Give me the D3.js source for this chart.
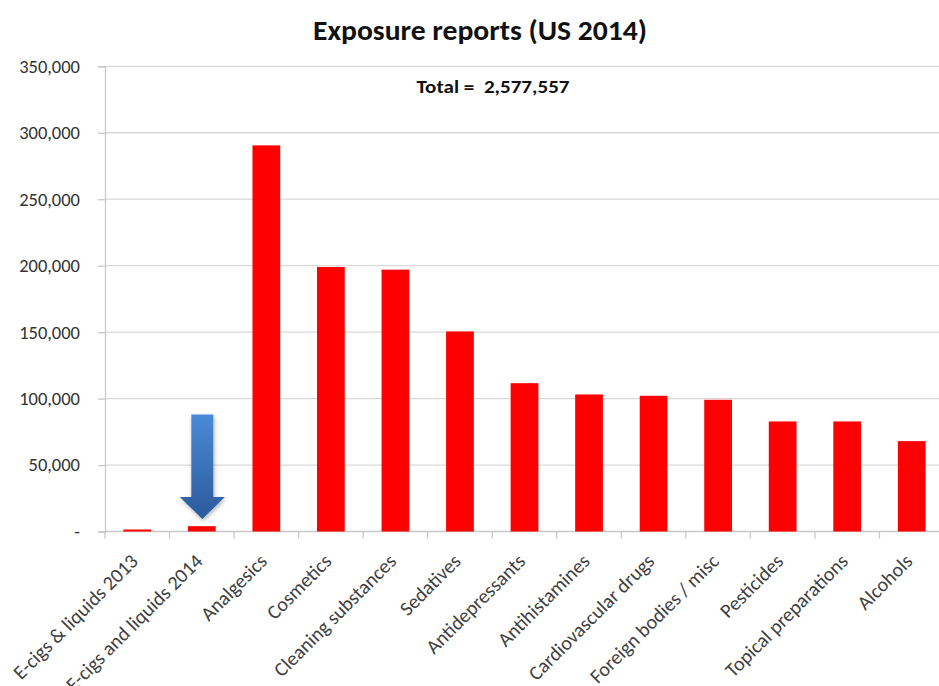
<!DOCTYPE html>
<html>
<head>
<meta charset="utf-8">
<script src="https://cdn.jsdelivr.net/npm/d3@7/dist/d3.min.js"></script>
<style>
  html, body { margin: 0; padding: 0; background: #fff; }
  svg { display: block; }
  text { font-family: Carlito, Lato, "Open Sans", sans-serif; }
</style>
</head>
<body>
<svg id="chart" width="939" height="686"></svg>
<script>
const categories = ["E-cigs & liquids 2013", "E-cigs and liquids 2014", "Analgesics", "Cosmetics",
  "Cleaning substances", "Sedatives", "Antidepressants", "Antihistamines", "Cardiovascular drugs",
  "Foreign bodies / misc", "Pesticides", "Topical preparations", "Alcohols"];
const values = [1500, 4000, 290500, 199000, 197000, 150500, 111600, 103100, 102100, 99100, 82800, 82800, 68000];
const yTicks = [0, 50000, 100000, 150000, 200000, 250000, 300000, 350000];
const title = "Exposure reports (US 2014)";
const totalLabel = "Total =  2,577,557";
const arrowTarget = "E-cigs and liquids 2014";
const arrowTop = 88000;

const svg = d3.select("#chart");
const W = 939, H = 686;
const m = { left: 105, right: -5, top: 66.3, bottom: 154.5 };

const x = d3.scaleBand().domain(categories).range([m.left, W - m.right]).paddingInner(0.57).paddingOuter(0.285);
const y = d3.scaleLinear().domain([0, 350000]).range([H - m.bottom, m.top]);

// gridlines
svg.append("g").selectAll("line").data(yTicks.slice(1)).join("line")
  .attr("x1", m.left).attr("x2", W).attr("y1", d => y(d)).attr("y2", d => y(d))
  .attr("stroke", "#d9d9d9").attr("stroke-width", 1.3);

// y axis
const yAxis = svg.append("g").attr("transform", `translate(${m.left},0)`)
  .call(d3.axisLeft(y).tickValues(yTicks).tickSize(7).tickPadding(18)
    .tickFormat(d => d === 0 ? "-" : d3.format(",")(d)));
yAxis.select(".domain").attr("stroke", "#c8c8c8").attr("stroke-width", 1.3);
yAxis.selectAll(".tick line").attr("stroke", "#c8c8c8").attr("stroke-width", 1.3);
yAxis.selectAll(".tick text").attr("fill", "#333").style("font-size", "18.5px")
  .style("font-family", "Carlito, Lato, sans-serif");

// x axis (ticks at band boundaries)
const step = x.step();
const boundaries = d3.range(categories.length + 1).map(i => x.range()[0] + i * step);
svg.append("line").attr("x1", m.left).attr("x2", W).attr("y1", y(0)).attr("y2", y(0))
  .attr("stroke", "#c8c8c8").attr("stroke-width", 1.3);
svg.append("g").selectAll("line").data(boundaries).join("line")
  .attr("x1", d => d).attr("x2", d => d).attr("y1", y(0)).attr("y2", y(0) + 7)
  .attr("stroke", "#c8c8c8").attr("stroke-width", 1.3);

// bars
svg.append("g").selectAll("rect").data(values).join("rect")
  .attr("x", (d, i) => x(categories[i])).attr("width", x.bandwidth())
  .attr("y", d => y(d)).attr("height", d => y(0) - y(d))
  .attr("fill", "#ff0000");

// x labels
svg.append("g").selectAll("text").data(categories).join("text")
  .attr("transform", d => `translate(${x(d) + x.bandwidth() / 2 + 2},${y(0) + 31}) rotate(-45)`)
  .attr("text-anchor", "end")
  .attr("fill", "#404040").style("font-size", "20px")
  .text(d => d);

// title
svg.append("text").attr("x", 480).attr("y", 40).attr("text-anchor", "middle")
  .style("font-size", "28px").style("font-weight", "bold").attr("fill", "#111")
  .attr("textLength", 334).attr("lengthAdjust", "spacingAndGlyphs")
  .text(title);

// total
svg.append("text").attr("x", 493).attr("y", 93).attr("text-anchor", "middle")
  .style("font-size", "18px").style("font-weight", "bold").attr("fill", "#111")
  .attr("textLength", 153).attr("lengthAdjust", "spacingAndGlyphs")
  .style("white-space", "pre")
  .text(totalLabel);

// arrow
const defs = svg.append("defs");
const grad = defs.append("linearGradient").attr("id", "ag").attr("x1", 0).attr("y1", 0).attr("x2", 0).attr("y2", 1);
grad.append("stop").attr("offset", "0%").attr("stop-color", "#4a8ad6");
grad.append("stop").attr("offset", "100%").attr("stop-color", "#2b5a9b");
const filt = defs.append("filter").attr("id", "sh").attr("x", "-30%").attr("y", "-30%").attr("width", "160%").attr("height", "160%");
filt.append("feDropShadow").attr("dx", 1).attr("dy", 2).attr("stdDeviation", 2).attr("flood-color", "#000").attr("flood-opacity", 0.3);

const cx = x(arrowTarget) + x.bandwidth() / 2 + 0.5;
const yTop = y(arrowTop), yHead = 497, yTip = 519;
const sw = 11, hw = 22.5;
const pts = [[cx - sw, yTop], [cx + sw, yTop], [cx + sw, yHead], [cx + hw, yHead], [cx, yTip],
  [cx - hw, yHead], [cx - sw, yHead]];
svg.append("path").attr("d", d3.line()(pts) + "Z").attr("fill", "url(#ag)").attr("filter", "url(#sh)");
</script>
</body>
</html>
